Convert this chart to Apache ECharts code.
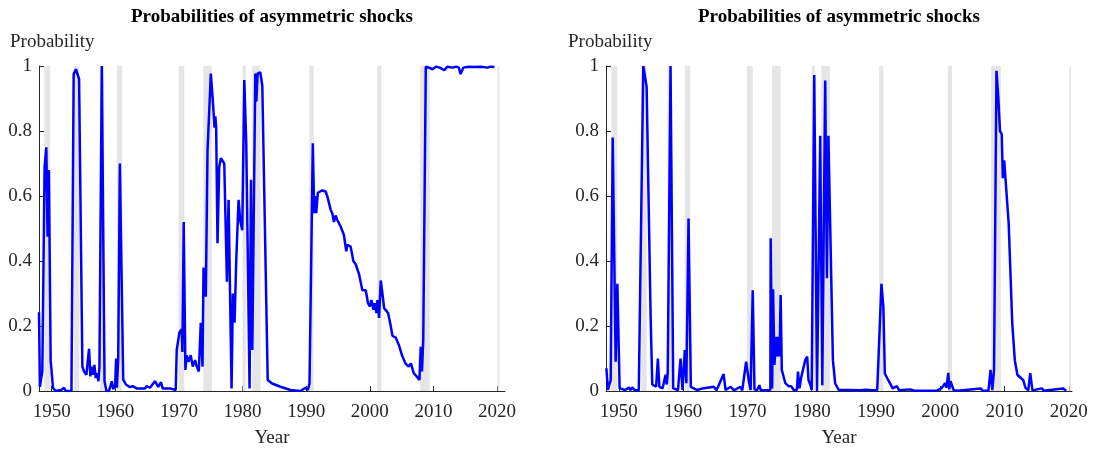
<!DOCTYPE html>
<html>
<head>
<meta charset="utf-8">
<script src="https://cdn.jsdelivr.net/npm/echarts@6/dist/echarts.min.js"></script>
<style>
  html, body { margin: 0; padding: 0; background: #fff; }
  #main { width: 1096px; height: 450px; }
</style>
</head>
<body>
<div id="main"></div>
<script>
var option;

// NBER recessions (shaded)
var recStart = [1948.83, 1953.5, 1957.58, 1960.25, 1969.92, 1973.83, 1980.0, 1981.5, 1990.5, 2001.17, 2007.92, 2020.08];
var recEnd   = [1949.75, 1954.33, 1958.25, 1961.08, 1970.83, 1975.17, 1980.5, 1982.83, 1991.17, 2001.83, 2009.42, 2020.33];

var yearTicks = [1950, 1960, 1970, 1980, 1990, 2000, 2010, 2020];

/**
 * left panel
 */
var leftYears = [1948.0, 1948.14, 1948.52, 1948.88, 1949.15, 1949.35, 1949.56, 1949.83, 1950.2, 1950.6,
    1951.5, 1951.93, 1952.2, 1953.1, 1953.45, 1953.8, 1954.04, 1954.3, 1954.82, 1955.08,
    1955.45, 1955.87, 1956.08, 1956.29, 1956.5, 1956.71, 1956.92, 1957.13, 1957.34, 1957.5,
    1957.87, 1958.3, 1958.6, 1959.0, 1959.45, 1959.66, 1959.97, 1960.13, 1960.24, 1960.45,
    1960.71, 1961.24, 1961.66, 1962.3, 1962.71, 1963.34, 1964.65, 1964.92, 1965.44, 1966.23,
    1966.75, 1967.18, 1967.44, 1968.6, 1969.49, 1969.65, 1970.07, 1970.44, 1970.54, 1970.75,
    1971.01, 1971.22, 1971.49, 1971.85, 1972.17, 1972.54, 1972.8, 1973.12, 1973.43, 1973.7,
    1973.86, 1974.22, 1974.49, 1975.01, 1975.3, 1975.59, 1975.72, 1975.85, 1976.06, 1976.33,
    1976.59, 1977.12, 1977.54, 1977.8, 1978.06, 1978.27, 1978.48, 1978.74, 1979.0, 1979.37,
    1979.63, 1979.95, 1980.27, 1980.58, 1981.1, 1981.32, 1981.53, 1982.0, 1982.16, 1982.37,
    1982.79, 1983.1, 1983.95, 1984.64, 1985.95, 1987.52, 1989.1, 1989.89, 1990.25, 1990.52,
    1991.04, 1991.26, 1991.42, 1991.58, 1991.83, 1992.52, 1993.05, 1993.31, 1993.84, 1994.1,
    1994.36, 1994.62, 1994.89, 1995.41, 1995.93, 1996.3, 1996.47, 1996.99, 1997.41, 1997.78,
    1998.3, 1998.83, 1999.36, 1999.72, 1999.99, 2000.25, 2000.57, 2000.77, 2001.04, 2001.2,
    2001.46, 2001.72, 2001.98, 2002.25, 2002.87, 2003.19, 2003.56, 2004.08, 2004.6, 2005.05,
    2005.6, 2006.1, 2006.46, 2006.9, 2007.4, 2007.8, 2008.0, 2008.2, 2008.4, 2008.8,
    2009.3, 2009.85, 2010.4, 2011.0, 2011.7, 2012.2, 2013.0, 2013.6, 2014.0, 2014.27,
    2014.7, 2015.5, 2016.5, 2017.5, 2018.5, 2019.0, 2019.6];
var leftProb = [0.242, 0.013, 0.06, 0.69, 0.75, 0.475, 0.68, 0.095, 0.01, 0.0,
    0.003, 0.01, 0.0, 0.0, 0.975, 0.99, 0.99, 0.96, 0.075, 0.06,
    0.05, 0.13, 0.045, 0.075, 0.05, 0.08, 0.04, 0.055, 0.03, 0.075,
    1.0, 0.03, 0.0, 0.0, 0.03, 0.005, 0.02, 0.1, 0.01, 0.1,
    0.70, 0.035, 0.02, 0.012, 0.015, 0.008, 0.008, 0.015, 0.01, 0.03,
    0.013, 0.027, 0.008, 0.008, 0.003, 0.126, 0.18, 0.19, 0.12, 0.52,
    0.065, 0.11, 0.09, 0.11, 0.075, 0.095, 0.075, 0.06, 0.21, 0.075,
    0.38, 0.29, 0.74, 0.977, 0.9, 0.81, 0.845, 0.81, 0.455, 0.69,
    0.716, 0.70, 0.336, 0.588, 0.588, 0.008, 0.30, 0.21, 0.40, 0.588,
    0.525, 0.495, 0.957, 0.76, 0.008, 0.65, 0.126, 0.977, 0.89, 0.977,
    0.98, 0.94, 0.034, 0.023, 0.013, 0.003, 0.0, 0.01, 0.003, 0.023,
    0.762, 0.547, 0.60, 0.547, 0.61, 0.617, 0.614, 0.60, 0.558, 0.547,
    0.52, 0.54, 0.526, 0.506, 0.48, 0.43, 0.45, 0.444, 0.40, 0.39,
    0.36, 0.31, 0.31, 0.27, 0.26, 0.28, 0.25, 0.27, 0.24, 0.28,
    0.225, 0.34, 0.30, 0.255, 0.24, 0.21, 0.17, 0.164, 0.14, 0.11,
    0.085, 0.075, 0.085, 0.055, 0.044, 0.034, 0.136, 0.06, 0.157, 0.998,
    0.995, 0.99, 0.998, 0.995, 0.987, 0.998, 0.995, 0.998, 0.995, 0.975,
    0.995, 0.998, 0.997, 0.998, 0.995, 0.998, 0.997];

/**
 * right panel
 */
var rightYears = [1948.06, 1948.3, 1948.73, 1949.04, 1949.5, 1949.62, 1949.77, 1949.9, 1950.12, 1951.0,
    1951.57, 1951.8, 1952.1, 1952.5, 1953.1, 1953.3, 1953.8, 1954.32, 1954.94, 1955.2,
    1955.5, 1955.8, 1956.07, 1956.3, 1956.8, 1957.27, 1957.45, 1957.6, 1958.04, 1958.46,
    1959.2, 1959.6, 1959.9, 1960.26, 1960.5, 1960.84, 1961.2, 1962.2, 1963.0, 1963.3,
    1964.77, 1965.2, 1966.3, 1966.6, 1967.4, 1967.9, 1968.9, 1969.2, 1969.8, 1970.2,
    1970.5, 1970.83, 1971.1, 1971.5, 1971.86, 1972.1, 1973.57, 1973.62, 1973.85, 1973.99,
    1974.2, 1974.5, 1974.7, 1974.85, 1975.0, 1975.17, 1975.35, 1975.9, 1976.4, 1976.8,
    1977.2, 1977.7, 1977.87, 1978.1, 1978.35, 1978.6, 1979.0, 1979.3, 1979.5, 1979.8,
    1980.0, 1980.4, 1980.83, 1981.1, 1981.33, 1981.65, 1982.1, 1982.37, 1982.6, 1982.9,
    1983.3, 1983.65, 1984.2, 1986.0, 1987.5, 1988.5, 1989.5, 1990.2, 1990.85, 1991.15,
    1991.38, 1991.9, 1992.6, 1993.25, 1993.6, 1995.3, 1996.0, 1999.45, 2000.2, 2000.75,
    2000.95, 2001.26, 2001.4, 2001.6, 2001.85, 2002.1, 2002.4, 2002.7, 2006.3, 2006.6,
    2007.5, 2007.83, 2008.1, 2008.37, 2008.75, 2009.0, 2009.3, 2009.57, 2009.73, 2009.95,
    2010.1, 2010.65, 2011.2, 2011.6, 2012.0, 2012.55, 2012.9, 2013.26, 2013.7, 2014.0,
    2014.35, 2015.8, 2016.1, 2019.08, 2019.6];
var rightProb = [0.07, 0.003, 0.034, 0.78, 0.09, 0.09, 0.33, 0.33, 0.008, 0.003,
    0.011, 0.003, 0.011, 0.002, 0.002, 0.003, 1.0, 0.936, 0.23, 0.02,
    0.024, 0.013, 0.10, 0.013, 0.008, 0.05, 0.02, 0.054, 1.0, 0.008,
    0.003, 0.10, 0.003, 0.126, 0.024, 0.531, 0.013, 0.003, 0.008, 0.002,
    0.013, 0.002, 0.052, 0.003, 0.013, 0.002, 0.013, 0.002, 0.09, 0.034,
    0.003, 0.31, 0.005, 0.002, 0.018, 0.002, 0.003, 0.47, 0.008, 0.313,
    0.08, 0.167, 0.106, 0.167, 0.106, 0.295, 0.065, 0.024, 0.015, 0.015,
    0.003, 0.003, 0.06, 0.008, 0.04, 0.034, 0.095, 0.106, 0.034, 0.018,
    0.003, 0.972, 0.0, 0.0, 0.785, 0.018, 0.955, 0.347, 0.785, 0.79,
    0.095, 0.024, 0.003, 0.003, 0.002, 0.004, 0.002, 0.003, 0.33, 0.26,
    0.054, 0.034, 0.008, 0.015, 0.002, 0.005, 0.001, 0.001, 0.008, 0.024,
    0.01, 0.056, 0.005, 0.03, 0.024, 0.002, 0.008, 0.001, 0.008, 0.001,
    0.001, 0.065, 0.003, 0.065, 0.985, 0.915, 0.80, 0.79, 0.655, 0.71,
    0.705, 0.515, 0.21, 0.095, 0.05, 0.04, 0.034, 0.01, 0.002, 0.055,
    0.002, 0.008, 0.001, 0.008, 0.001];

function pairs(xs, ys) {
    return xs.map(function (x, i) { return [x, ys[i]]; });
}

var bands = recStart.map(function (s, i) {
    return [{ xAxis: s }, { xAxis: recEnd[i] }];
});

var font = 'Liberation Serif';
var axisColor = '#262626';

function xAxisFor(idx, maxYear) {
    return {
        type: 'value',
        gridIndex: idx,
        min: 1948,
        max: maxYear,
        name: 'Year',
        nameLocation: 'middle',
        nameGap: 38,
        nameTextStyle: { fontFamily: font, fontSize: 19, color: axisColor },
        axisLine: { lineStyle: { color: axisColor, width: 1 } },
        axisTick: { inside: true, length: 5, customValues: yearTicks, lineStyle: { color: axisColor } },
        axisLabel: {
            customValues: yearTicks, margin: 12, fontFamily: font, fontSize: 19, color: axisColor,
            formatter: function (v) { return String(v); }
        },
        splitLine: { show: false }
    };
}

function yAxisFor(idx) {
    return {
        type: 'value',
        gridIndex: idx,
        min: 0,
        max: 1,
        interval: 0.2,
        axisLine: { show: true, lineStyle: { color: axisColor, width: 1 } },
        axisTick: { show: true, inside: true, length: 5, lineStyle: { color: axisColor } },
        axisLabel: { margin: 7, fontFamily: font, fontSize: 19, color: axisColor },
        splitLine: { show: false }
    };
}

function shadeSeries(idx) {
    return {
        type: 'line',
        xAxisIndex: idx,
        yAxisIndex: idx,
        data: [],
        silent: true,
        z: 1,
        markArea: {
            silent: true,
            itemStyle: { color: '#e5e5e5' },
            data: bands
        }
    };
}

function probSeries(idx, xs, ys) {
    return {
        type: 'line',
        xAxisIndex: idx,
        yAxisIndex: idx,
        data: pairs(xs, ys),
        showSymbol: false,
        z: 3,
        lineStyle: { color: '#0000ff', width: 2.5 },
        itemStyle: { color: '#0000ff' }
    };
}

var myChart = echarts.init(document.getElementById('main'), null, { width: 1096, height: 450 });

option = {
    backgroundColor: '#fff',
    animation: false,
    title: [
        { text: 'Probabilities of asymmetric shocks', left: 272, top: 8, textAlign: 'center', padding: 0,
          textStyle: { fontFamily: font, fontSize: 19, fontWeight: 'bold', color: '#000' } },
        { text: 'Probabilities of asymmetric shocks', left: 839, top: 8, textAlign: 'center', padding: 0,
          textStyle: { fontFamily: font, fontSize: 19, fontWeight: 'bold', color: '#000' } },
        { text: 'Probability', left: 10, top: 33, padding: 0,
          textStyle: { fontFamily: font, fontSize: 19, fontWeight: 'normal', color: axisColor } },
        { text: 'Probability', left: 568, top: 33, padding: 0,
          textStyle: { fontFamily: font, fontSize: 19, fontWeight: 'normal', color: axisColor } }
    ],
    grid: [
        { left: 39, top: 66, width: 466, height: 325, outerBoundsMode: 'none' },
        { left: 606, top: 66, width: 466, height: 325, outerBoundsMode: 'none' }
    ],
    xAxis: [xAxisFor(0, 2021.25), xAxisFor(1, 2020.5)],
    yAxis: [yAxisFor(0), yAxisFor(1)],
    series: [
        shadeSeries(0),
        shadeSeries(1),
        probSeries(0, leftYears, leftProb),
        probSeries(1, rightYears, rightProb)
    ]
};

option && myChart.setOption(option);
</script>
</body>
</html>
